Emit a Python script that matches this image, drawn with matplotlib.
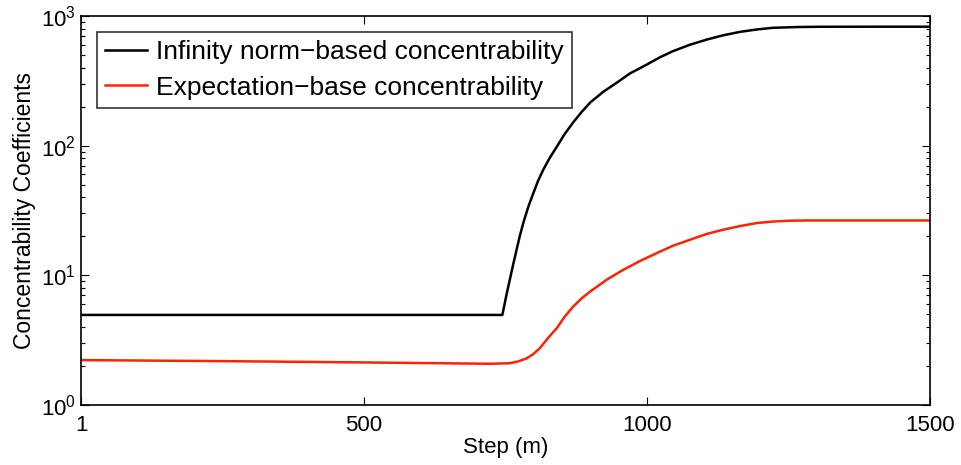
import numpy as np
import matplotlib
matplotlib.use("Agg")
import matplotlib.pyplot as plt
from matplotlib.ticker import LogLocator

plt.rcParams['font.family'] = ['Liberation Sans', 'DejaVu Sans']

# Values
inf_steps = [1, 745, 752, 758, 764, 770, 776, 782, 791, 800, 808, 817, 829, 841,
             855, 870, 885, 900, 923, 947, 970, 1000, 1023, 1046, 1076, 1106,
             1135, 1165, 1195, 1223, 1265, 1306, 1400, 1500]
inf_vals = [4.95, 4.95, 7.0, 9.2, 12.1, 15.7, 20.3, 25.4, 34, 43.4, 53.5, 65, 81, 98,
            123, 151, 182, 215, 260, 306, 360, 422, 480, 535, 600, 658,
            710, 755, 788, 811, 822, 826, 827, 827]

exp_steps = [1, 250, 500, 723, 758, 773, 788, 800, 811, 826, 841, 855, 870, 885,
             900, 930, 958, 988, 1017, 1046, 1076, 1105, 1135, 1165, 1194, 1223,
             1253, 1287, 1400, 1500]
exp_vals = [2.22, 2.18, 2.13, 2.08, 2.1, 2.17, 2.29, 2.48, 2.74, 3.3, 3.91, 4.8, 5.74, 6.65,
            7.5, 9.3, 11.0, 12.9, 14.8, 16.9, 18.8, 20.8, 22.5, 24.0, 25.3, 26.0,
            26.4, 26.5, 26.5, 26.5]

x_ticks = [1, 500, 1000, 1500]

fig = plt.figure(figsize=(9.61, 4.65), dpi=100)
ax = fig.add_axes([0.0843, 0.129, 0.8834, 0.8366])

ax.semilogy(inf_steps, inf_vals, color='black', lw=1.8,
            label='Infinity norm\u2212based concentrability')
ax.semilogy(exp_steps, exp_vals, color='#ff2200', lw=1.8,
            label='Expectation\u2212base concentrability')

ax.set_xlim(1, 1500)
ax.set_ylim(1, 1000)
ax.set_xticks(x_ticks)
ax.set_xticklabels([str(t) for t in x_ticks])
ax.yaxis.set_minor_locator(LogLocator(base=10, subs=np.arange(2, 10)))

ax.tick_params(which='both', direction='in', top=True, right=True, labelsize=16)
ax.tick_params(which='major', length=6, width=0.8)
ax.tick_params(which='minor', length=3, width=0.8)
ax.tick_params(axis='x', pad=7)
for s in ax.spines.values():
    s.set_linewidth(1.2)

ax.set_xlabel('Step (m)', fontsize=16, labelpad=1)
ax.set_ylabel('Concentrability Coefficients', fontsize=16.5, labelpad=4)

leg = ax.legend(loc='upper left', fontsize=19, frameon=True, fancybox=False,
                edgecolor='black', handlelength=1.6, borderaxespad=0.6,
                borderpad=0.3, labelspacing=0.45, handletextpad=0.35)
leg.get_frame().set_linewidth(1.2)

fig.savefig('out.png', dpi=100)
